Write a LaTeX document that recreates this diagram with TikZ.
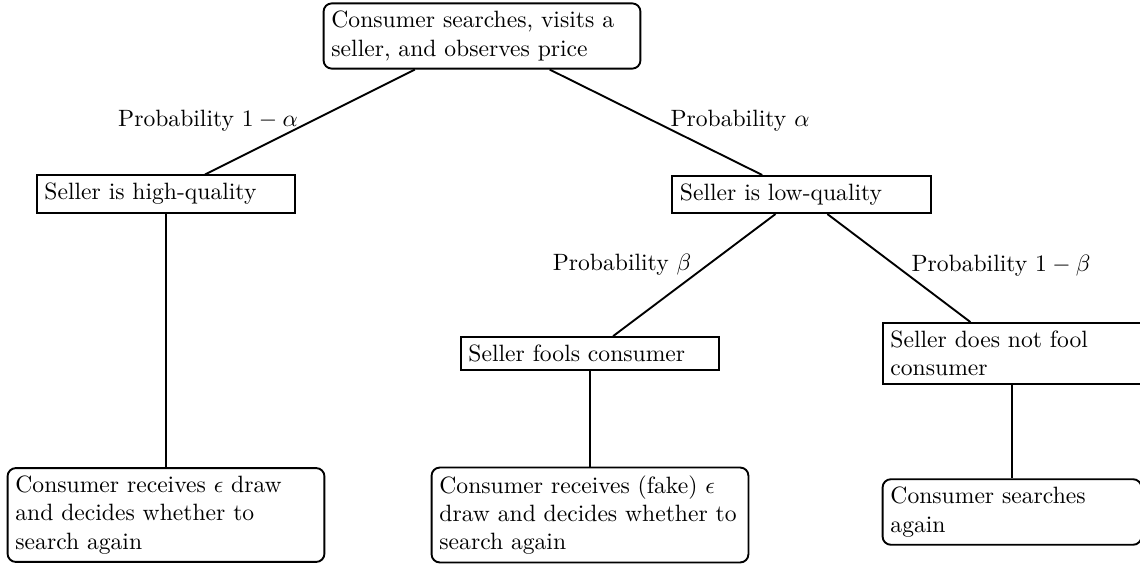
\documentclass[tikz,border=0pt]{standalone}
\tikzset{
  box/.style={draw, line width=0.8pt, align=left, inner sep=3.33pt},
  rbox/.style={box, rounded corners=3.5pt},
  wide/.style={text width=127.6pt},
  narrow/.style={text width=103pt},
  lbl/.style={inner sep=0pt},
  conn/.style={line width=0.8pt}
}
\begin{document}
\begin{tikzpicture}[x=0.4237pt,y=-0.4237pt]
\useasboundingbox (0,0) rectangle (1140,565);
\node[rbox,wide] (top) at (482,36) {Consumer searches, visits a seller, and observes price};
\node[box,narrow] (hq) at (166,194) {Seller is high-quality};
\node[box,narrow] (lq) at (801.5,194.5) {Seller is low-quality};
\node[box,narrow] (fool) at (590,353.5) {Seller fools consumer};
\node[box,narrow] (nofool) at (1012,353.5) {Seller does not fool consumer};
\node[rbox,wide] (bl) at (166,515) {Consumer receives $\epsilon$ draw and decides whether to search again};
\node[rbox,wide] (bm) at (590,515) {Consumer receives (fake) $\epsilon$ draw and decides whether to search again};
\node[rbox,narrow] (br) at (1012,512) {Consumer searches again};
\node[lbl] (l1) at (208,121) {Probability $1-\alpha$};
\node[lbl] (l2) at (740,121) {Probability $\alpha$};
\node[lbl] (l3) at (622,265) {Probability $\beta$};
\node[lbl] (l4) at (1001,266) {Probability $1-\beta$};
\draw[conn] (top) -- (hq);
\draw[conn] (top) -- (lq);
\draw[conn] (lq) -- (fool);
\draw[conn] (lq) -- (nofool);
\draw[conn] (hq) -- (bl);
\draw[conn] (fool) -- (bm);
\draw[conn] (nofool) -- (br);
\end{tikzpicture}
\end{document}
